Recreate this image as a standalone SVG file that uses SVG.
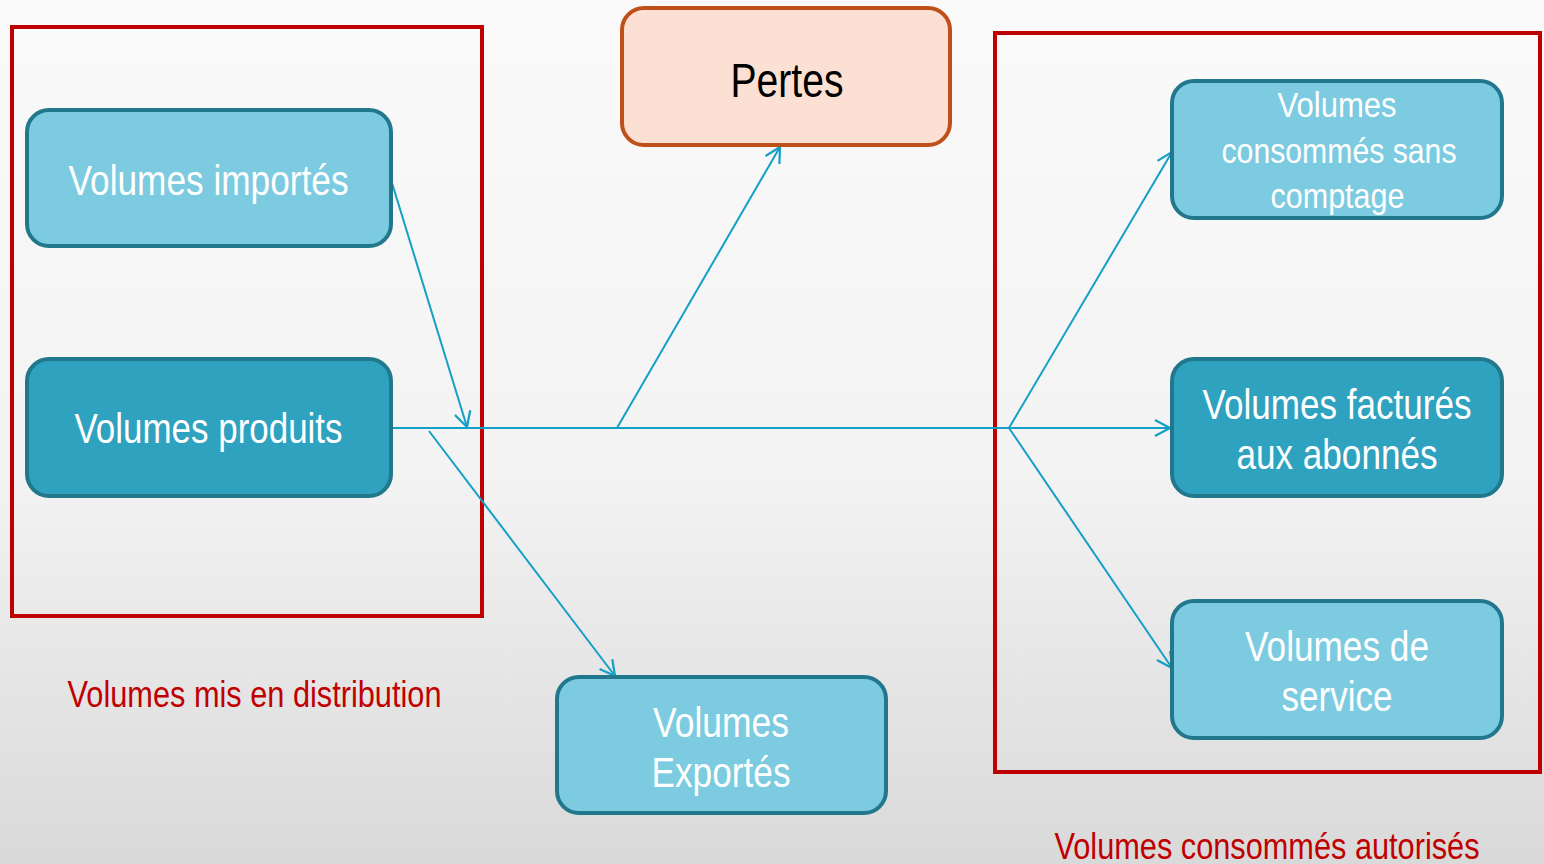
<svg xmlns="http://www.w3.org/2000/svg" width="1544" height="864" viewBox="0 0 1544 864">
<defs>
<linearGradient id="bg" x1="0" y1="0" x2="0" y2="1">
<stop offset="0" stop-color="#fafafa"/>
<stop offset="0.55" stop-color="#f3f3f3"/>
<stop offset="1" stop-color="#d9d9d9"/>
</linearGradient>
<marker id="arr" markerUnits="userSpaceOnUse" markerWidth="20" markerHeight="20" viewBox="-16 -10 18 20" refX="0" refY="0" orient="auto">
<path d="M -15 -8 L 0 0 L -15 8" fill="none" stroke="#12a0c6" stroke-width="2.2"/>
</marker>
</defs>
<style>
.frame{fill:none;stroke:#c00000;stroke-width:4}
.light{fill:#7ccbe0;stroke:#21788c;stroke-width:4}
.dark{fill:#2ea2bf;stroke:#21788c;stroke-width:4}
.loss{fill:#fbe0d3;stroke:#c0501a;stroke-width:4}
.t{font-family:'Liberation Sans',Arial,sans-serif;text-anchor:middle;fill:#ffffff}
.k{font-family:'Liberation Sans',Arial,sans-serif;text-anchor:middle;fill:#000000}
.lbl{font-family:'Liberation Sans',Arial,sans-serif;text-anchor:middle;fill:#c00000;font-size:36px}
.c{fill:none;stroke:#12a0c6;stroke-width:2}
</style>
<rect x="0" y="0" width="1544" height="864" fill="url(#bg)"/>

<g id="frames">
<rect class="frame" x="12" y="27" width="470" height="589"/>
<rect class="frame" x="995" y="33" width="545" height="739"/>
<text class="lbl" x="254.5" y="707" textLength="374" lengthAdjust="spacingAndGlyphs">Volumes mis en distribution</text>
<text class="lbl" x="1267" y="859" textLength="425" lengthAdjust="spacingAndGlyphs">Volumes consommés autorisés</text>
</g>

<g id="connectors">
<line class="c" x1="393" y1="428" x2="1170" y2="428" marker-end="url(#arr)"/>
<line class="c" x1="392" y1="183" x2="467" y2="427" marker-end="url(#arr)"/>
<line class="c" x1="617" y1="428" x2="780" y2="147" marker-end="url(#arr)"/>
<line class="c" x1="429" y1="431" x2="615" y2="676" marker-end="url(#arr)"/>
<line class="c" x1="1009" y1="428" x2="1172" y2="152" marker-end="url(#arr)"/>
<line class="c" x1="1009" y1="428" x2="1172" y2="668" marker-end="url(#arr)"/>
</g>

<g id="importes">
<rect class="light" x="27" y="110" width="364" height="136" rx="22"/>
<text class="t" x="208.5" y="195" font-size="43" textLength="280" lengthAdjust="spacingAndGlyphs">Volumes importés</text>
</g>
<g id="produits">
<rect class="dark" x="27" y="359" width="364" height="137" rx="22"/>
<text class="t" x="208.5" y="443" font-size="43" textLength="268" lengthAdjust="spacingAndGlyphs">Volumes produits</text>
</g>
<g id="pertes">
<rect class="loss" x="622" y="8" width="328" height="137" rx="22"/>
<text class="k" x="787" y="97" font-size="49" textLength="113" lengthAdjust="spacingAndGlyphs">Pertes</text>
</g>
<g id="exportes">
<rect class="light" x="557" y="677" width="329" height="136" rx="22"/>
<text class="t" x="721" y="737" font-size="42" textLength="136" lengthAdjust="spacingAndGlyphs">Volumes</text>
<text class="t" x="721" y="787" font-size="42" textLength="139" lengthAdjust="spacingAndGlyphs">Exportés</text>
</g>
<g id="sans-comptage">
<rect class="light" x="1172" y="81" width="330" height="137" rx="22"/>
<text class="t" x="1337" y="117" font-size="35" textLength="119" lengthAdjust="spacingAndGlyphs">Volumes</text>
<text class="t" x="1339" y="163" font-size="35" textLength="235" lengthAdjust="spacingAndGlyphs">consommés sans</text>
<text class="t" x="1337.5" y="208" font-size="35" textLength="134" lengthAdjust="spacingAndGlyphs">comptage</text>
</g>
<g id="factures">
<rect class="dark" x="1172" y="359" width="330" height="137" rx="22"/>
<text class="t" x="1337" y="419" font-size="43" textLength="269" lengthAdjust="spacingAndGlyphs">Volumes facturés</text>
<text class="t" x="1337" y="469" font-size="43" textLength="201" lengthAdjust="spacingAndGlyphs">aux abonnés</text>
</g>
<g id="service">
<rect class="light" x="1172" y="601" width="330" height="137" rx="22"/>
<text class="t" x="1337" y="661" font-size="43" textLength="184" lengthAdjust="spacingAndGlyphs">Volumes de</text>
<text class="t" x="1337" y="711" font-size="43" textLength="111" lengthAdjust="spacingAndGlyphs">service</text>
</g>
</svg>
